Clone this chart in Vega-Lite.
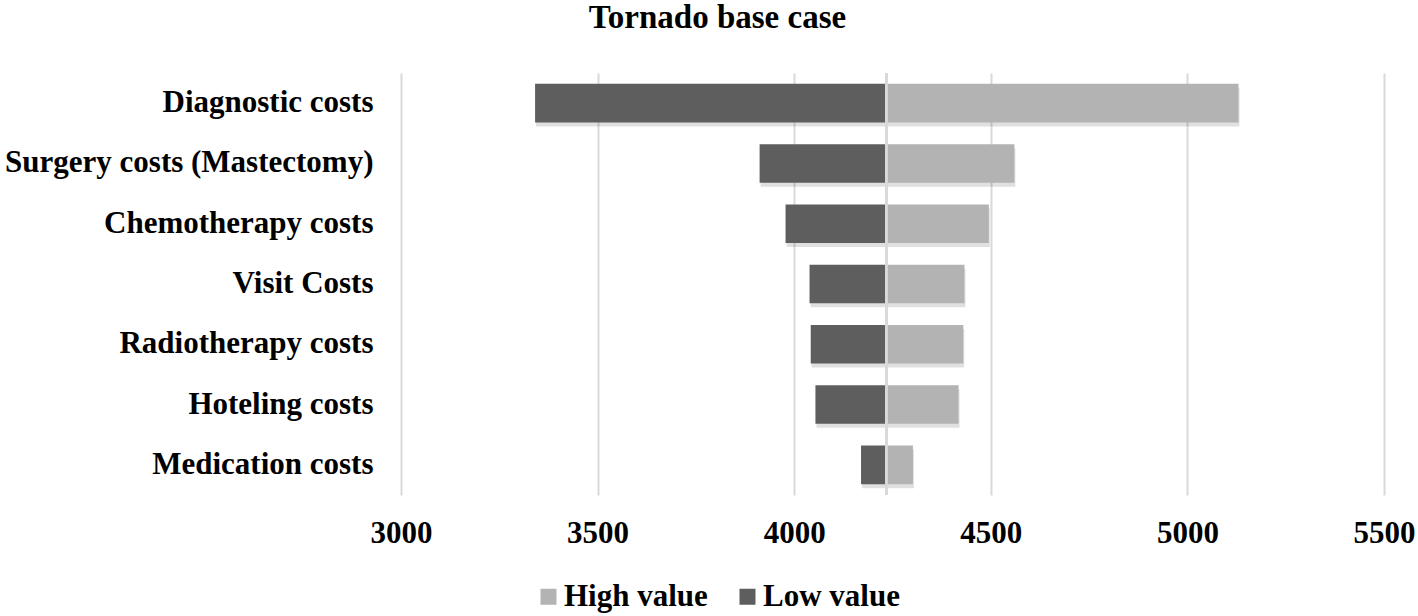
{
  "$schema": "https://vega.github.io/schema/vega-lite/v6.json",
  "width": 983,
  "height": 422,
  "autosize": "none",
  "padding": {"left": 401, "top": 73, "right": 34, "bottom": 121},
  "background": "white",
  "title": {
    "text": "Tornado base case",
    "font": "Liberation Serif",
    "fontSize": 33,
    "fontWeight": "bold",
    "color": "#000000",
    "anchor": "middle",
    "dx": -175,
    "offset": 37
  },
  "config": {
    "view": {"stroke": null},
    "axis": {
      "labelFont": "Liberation Serif",
      "labelFontSize": 31,
      "labelFontWeight": "bold",
      "labelColor": "#000000",
      "ticks": false,
      "domain": false,
      "title": null
    },
    "legend": {
      "labelFont": "Liberation Serif",
      "labelFontSize": 31,
      "labelFontWeight": "bold",
      "labelColor": "#000000",
      "padding": 0
    }
  },
  "data": {
    "values": [
      {"cost": "Diagnostic costs", "type": "High value", "value": 5130},
      {"cost": "Diagnostic costs", "type": "Low value", "value": 3341},
      {"cost": "Surgery costs (Mastectomy)", "type": "High value", "value": 4560},
      {"cost": "Surgery costs (Mastectomy)", "type": "Low value", "value": 3912},
      {"cost": "Chemotherapy costs", "type": "High value", "value": 4495},
      {"cost": "Chemotherapy costs", "type": "Low value", "value": 3978},
      {"cost": "Visit Costs", "type": "High value", "value": 4433},
      {"cost": "Visit Costs", "type": "Low value", "value": 4039},
      {"cost": "Radiotherapy costs", "type": "High value", "value": 4430},
      {"cost": "Radiotherapy costs", "type": "Low value", "value": 4042},
      {"cost": "Hoteling costs", "type": "High value", "value": 4418},
      {"cost": "Hoteling costs", "type": "Low value", "value": 4054},
      {"cost": "Medication costs", "type": "High value", "value": 4302},
      {"cost": "Medication costs", "type": "Low value", "value": 4170}
    ]
  },
  "layer": [
    {
      "mark": {"type": "bar", "color": "#000000", "opacity": 0.12, "yOffset": 4, "xOffset": 1},
      "encoding": {
        "y": {
          "field": "cost",
          "type": "nominal",
          "sort": null,
          "scale": {"paddingInner": 0.36, "paddingOuter": 0.18},
          "axis": {"labelPadding": 28, "labelLimit": 600}
        },
        "x": {
          "field": "value",
          "type": "quantitative",
          "scale": {"domain": [3000, 5500], "nice": false, "zero": false}
        },
        "x2": {"datum": 4234}
      }
    },
    {
      "mark": {"type": "bar"},
      "encoding": {
        "y": {
          "field": "cost",
          "type": "nominal",
          "sort": null
        },
        "x": {
          "field": "value",
          "type": "quantitative",
          "scale": {"domain": [3000, 5500], "nice": false, "zero": false},
          "axis": {
            "values": [3000, 3500, 4000, 4500, 5000, 5500],
            "format": "d",
            "grid": true,
            "gridColor": "#d9d9d9",
            "gridWidth": 2,
            "labelPadding": 23,
            "labelFlush": false,
            "labelOverlap": false
          }
        },
        "x2": {"datum": 4234},
        "color": {
          "field": "type",
          "type": "nominal",
          "scale": {"domain": ["High value", "Low value"], "range": ["#b3b3b3", "#5e5e5e"]},
          "legend": {
            "title": null,
            "orient": "none",
            "direction": "horizontal",
            "legendX": 132,
            "legendY": 508,
            "symbolType": "square",
            "symbolSize": 256,
            "symbolStrokeWidth": 0,
            "labelOffset": 0,
            "columnPadding": 24
          }
        }
      }
    },
    {
      "mark": {"type": "rule", "color": "#d9d9d9", "strokeWidth": 2},
      "encoding": {"x": {"datum": 4234}}
    }
  ]
}
